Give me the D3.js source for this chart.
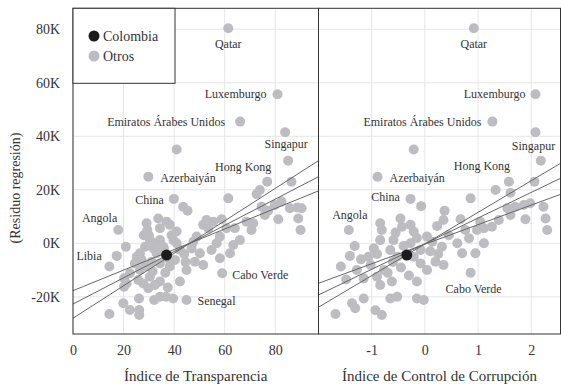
<!DOCTYPE html>
<html>
<head>
<meta charset="utf-8">
<script src="https://cdn.jsdelivr.net/npm/d3@7"></script>
<style>
  body { margin: 0; background: #fff; }
  text { font-family: "Liberation Serif", "Times New Roman", serif; fill: #333; }
</style>
</head>
<body>
<div id="grafico"></div>
<script>
// ticks
var ticksTransp = [0, 20, 40, 60, 80];
var ticksControl = [-1, 0, 1, 2];
var ticksResiduo = [-20, 0, 20, 40, 60, 80];

// paises con etiqueta: [nombre, indice transparencia, residuo (K)]
var paisesTransp = [
  ["Qatar", 61.4, 80.4], ["Luxemburgo", 80.9, 55.7], ["Emiratos Árabes Unidos", 66.1, 45.5],
  ["Singapur", 83.9, 41.5], ["Hong Kong", 76.8, 23.0], ["Azerbaiyán", 29.8, 24.9],
  ["China", 39.9, 16.6], ["Angola", 17.9, 5.0], ["Libia", 17.3, -4.7],
  ["Senegal", 44.9, -21.2], ["Cabo Verde", 59.0, -11.2]
];
// [nombre, control de corrupcion, residuo (K)]
var paisesControl = [
  ["Qatar", 0.92, 80.4], ["Luxemburgo", 2.08, 55.7], ["Emiratos Árabes Unidos", 1.27, 45.5],
  ["Singapur", 2.08, 41.5], ["Hong Kong", 1.58, 23.0], ["Azerbaiyán", -0.89, 24.9],
  ["China", -0.27, 16.6], ["Angola", -1.43, 5.0], ["Cabo Verde", 0.86, -11.0]
];

// resto de paises
var otrosTransp = [
  [41.0, 35.1], [43.6, 13.7], [45.3, 12.2], [20.9, -1.3], [14.4, -8.7], [20.2, -13.1], [20.2, -16.2],
  [26.1, -20.6], [19.9, -22.4], [22.5, -24.9], [14.4, -26.4], [26.2, -24.9], [26.2, -26.8],
  [32.1, -21.2], [34.4, -20.0], [36.8, -20.0], [39.6, -20.6],
  [29.1, 7.5], [33.7, 9.3], [37.0, 8.1], [38.3, 6.9], [29.4, 5.0], [34.4, 5.6], [41.0, 4.4],
  [52.8, 8.7], [55.5, 8.1], [58.8, 9.0], [51.5, 6.9], [53.5, 5.6], [60.7, 5.6], [64.0, 5.6],
  [68.6, 8.1], [71.3, 7.5], [70.6, 5.0], [66.0, 1.2], [63.4, -0.6], [58.1, 2.5], [56.8, 0.0],
  [54.8, -2.5], [62.1, -3.7], [58.1, -5.6], [48.9, 2.5], [47.6, 0.6], [46.9, -1.9], [50.2, -3.7],
  [48.2, -6.9], [51.5, -8.1], [44.9, -10.0], [42.3, -14.3], [34.4, -14.3], [30.4, -12.5],
  [27.8, -15.0], [25.8, -13.7], [26.5, -10.0], [27.1, -6.2], [26.5, -3.7], [28.5, -1.3],
  [30.4, 1.2], [32.4, 0.0], [34.4, 1.2], [35.7, -1.3], [33.1, -3.7], [31.1, -6.9], [34.4, -7.5],
  [38.3, -8.7], [40.3, -6.2], [42.3, -2.5], [41.0, 0.0], [39.7, 1.2], [25.2, -5.0], [24.5, -7.5],
  [22.5, -11.2], [21.2, -15.0], [29.8, -16.8], [32.4, -15.6], [36.0, -2.0], [38.0, -6.0],
  [32.0, -2.0], [30.0, 3.0], [44.0, -4.0], [39.0, 3.0], [28.0, 3.0], [36.5, -11.0], [31.5, -10.5],
  [44.5, -7.0], [29.0, -8.5], [37.5, -16.5],
  [73.9, 19.9], [72.6, 18.4], [74.6, 13.7], [77.2, 12.2], [79.8, 14.3], [82.5, 15.6],
  [85.8, 13.1], [88.7, 13.4], [90.4, 13.1], [75.9, 10.6], [81.2, 9.0], [89.1, 9.3], [90.0, 5.0],
  [61.4, 16.8], [86.4, 23.0], [85.1, 30.9]
];
var otrosControl = [
  [2.18, 30.9], [-0.21, 35.1], [1.33, 19.9], [1.61, 18.9], [2.06, 23.0], [0.86, 16.8],
  [-0.07, 13.9], [0.37, 12.2], [0.35, 8.7], [0.67, 9.0], [0.23, 6.5], [0.76, 5.0],
  [1.55, 13.1], [1.70, 13.7], [1.86, 14.3], [1.98, 15.0], [2.23, 13.7], [2.27, 9.3], [2.30, 5.0],
  [1.61, 10.6], [1.89, 9.0], [1.39, 8.7], [1.26, 6.2], [1.11, 5.6], [0.98, 5.0], [1.04, 8.1],
  [-1.32, -1.0], [-1.41, -4.7], [-1.58, -8.7], [-1.48, -13.5], [-1.68, -26.4], [-1.37, -22.4],
  [-1.31, -24.3], [-1.15, -20.6], [-0.93, -25.0], [-0.81, -26.8], [-0.65, -20.6], [-0.52, -20.0],
  [-0.15, -20.6], [-0.02, -21.2], [-0.15, -14.3],
  [-0.84, 7.5], [-0.81, 5.0], [-0.46, 9.3], [-0.43, 6.2], [-0.27, 6.9], [-0.21, 4.4],
  [0.04, 2.5], [0.14, 0.6], [0.32, -1.3], [0.61, 0.0], [0.70, -3.7], [0.95, -3.7], [1.11, 0.0],
  [0.83, 1.9], [-0.84, 1.2], [-0.96, -1.9], [-1.06, -5.0], [-0.59, 1.2], [-0.65, -2.5],
  [-0.52, -5.0], [-1.02, -8.1], [-0.77, -10.0], [-0.90, -12.5], [-0.62, -14.3], [-0.84, -15.6],
  [-1.15, -13.1], [-0.08, -7.5], [0.04, -10.0], [0.20, -6.9], [0.35, -8.1], [-0.21, -5.0],
  [-0.08, -2.5], [-0.27, 0.0], [-1.28, -10.0],
  [-0.70, -11.0], [-0.45, -9.0], [-0.30, -12.0], [0.10, -3.0], [0.45, 3.0], [-0.55, 4.0],
  [-1.20, -6.0], [-0.90, -4.0], [0.25, -4.0], [-0.40, -1.0], [-0.60, -7.0], [-0.15, 2.0]
];

var colombiaTransp = [37.0, -4.4];
var colombiaControl = [-0.34, -4.4];

// rectas de ajuste: [x0, y0, x1, y1]
var rectasTransp = [[0, -22.7, 97.1, 24.9], [0, -17.7, 97.1, 19.6], [0, -28.0, 97.1, 30.9]];
var rectasControl = [[-2.0, -19.3, 2.55, 24.3], [-2.0, -14.95, 2.55, 18.3], [-2.0, -23.9, 2.55, 29.9]];

// --------------------------------------------------------------
var W = 561, H = 384;
var top_ = 8.3, bottom_ = 334;

var svg = d3.select("#grafico").append("svg")
  .attr("width", W).attr("height", H);

var y = d3.scaleLinear().domain([-33.9, 87.85]).range([bottom_, top_]);

// posicion de etiquetas (dx, dy, anchor)
var posTransp = {
  "Qatar": [0, 20, "middle"], "Luxemburgo": [-11, 4, "end"], "Emiratos Árabes Unidos": [-15, 4, "end"],
  "Singapur": [1, 16, "middle"], "Hong Kong": [-24, -11, "middle"], "Azerbaiyán": [12, 5, "start"],
  "China": [-10, 5, "end"], "Angola": [-1, -8, "end"], "Libia": [-15, 4.5, "end"],
  "Senegal": [11, 4.5, "start"], "Cabo Verde": [10, 5.5, "start"]
};
var posControl = {
  "Qatar": [0, 20, "middle"], "Luxemburgo": [-10, 4, "end"], "Emiratos Árabes Unidos": [-11, 4, "end"],
  "Singapur": [-2, 18, "middle"], "Hong Kong": [-27, -12, "middle"], "Azerbaiyán": [12, 5, "start"],
  "China": [-10.7, 2, "end"], "Angola": [1, -11, "middle"], "Cabo Verde": [3, 20, "middle"]
};

function panel(x0, x1, dominio, ticks, fmt, paises, otros, colombia, rectas, pos, titulo) {
  var x = d3.scaleLinear().domain(dominio).range([x0, x1]);
  var g = svg.append("g");

  // grid
  g.selectAll(".gv").data(ticks).enter().append("line")
    .attr("x1", function (d) { return x(d) }).attr("x2", function (d) { return x(d) })
    .attr("y1", top_).attr("y2", bottom_)
    .attr("stroke", "#e6e6e6").attr("stroke-width", 1);
  g.selectAll(".gh").data(ticksResiduo).enter().append("line")
    .attr("x1", x0).attr("x2", x1)
    .attr("y1", function (d) { return y(d) }).attr("y2", function (d) { return y(d) })
    .attr("stroke", "#e6e6e6").attr("stroke-width", 1);

  // puntos
  var todos = otros.concat(paises.map(function (p) { return [p[1], p[2]] }));
  g.selectAll(".pt").data(todos).enter().append("circle")
    .attr("cx", function (d) { return x(d[0]) })
    .attr("cy", function (d) { return y(d[1]) })
    .attr("r", 5)
    .attr("fill", "#bdbdc1");

  // rectas
  g.selectAll(".rc").data(rectas).enter().append("line")
    .attr("x1", function (d) { return x(d[0]) }).attr("y1", function (d) { return y(d[1]) })
    .attr("x2", function (d) { return x(d[2]) }).attr("y2", function (d) { return y(d[3]) })
    .attr("stroke", "#666").attr("stroke-width", 1);

  // colombia
  g.append("circle")
    .attr("cx", x(colombia[0])).attr("cy", y(colombia[1]))
    .attr("r", 5.5).attr("fill", "#1c1c1c");

  // etiquetas
  g.selectAll(".lb").data(paises).enter().append("text")
    .attr("x", function (d) { return x(d[1]) + pos[d[0]][0] })
    .attr("y", function (d) { return y(d[2]) + pos[d[0]][1] })
    .attr("text-anchor", function (d) { return pos[d[0]][2] })
    .attr("font-size", 12)
    .text(function (d) { return d[0] });

  // marco
  g.append("rect")
    .attr("x", x0).attr("y", top_).attr("width", x1 - x0).attr("height", bottom_ - top_)
    .attr("fill", "none").attr("stroke", "#333").attr("stroke-width", 1);

  // eje x
  var ax = svg.append("g")
    .attr("transform", "translate(0," + (bottom_ + 8) + ")")
    .call(d3.axisBottom(x).tickValues(ticks).tickSize(0).tickFormat(fmt));
  ax.select(".domain").remove();
  ax.selectAll("text").attr("font-size", 14).attr("fill", "#333")
    .style("font-family", "Liberation Serif");

  svg.append("text")
    .attr("x", (x0 + x1) / 2).attr("y", 381)
    .attr("text-anchor", "middle").attr("font-size", 15)
    .text(titulo);
}

panel(73, 318.5, [0, 97.1], ticksTransp, d3.format("d"), paisesTransp, otrosTransp,
  colombiaTransp, rectasTransp, posTransp, "Índice de Transparencia");
panel(318.5, 560.5, [-2.0, 2.55], ticksControl, function (d) { return d3.format("d")(d).replace("−", "-") },
  paisesControl, otrosControl, colombiaControl, rectasControl, posControl, "Índice de Control de Corrupción");

// eje y
var ay = svg.append("g")
  .attr("transform", "translate(" + 63 + ",0)")
  .call(d3.axisLeft(y).tickValues(ticksResiduo).tickSize(0)
    .tickFormat(function (d) { return d + "K" }));
ay.select(".domain").remove();
ay.selectAll("text").attr("font-size", 14).attr("fill", "#333")
  .style("font-family", "Liberation Serif");

svg.append("text")
  .attr("transform", "translate(20,188) rotate(-90)")
  .attr("text-anchor", "middle").attr("font-size", 14)
  .text("(Residuo regresión)");

// leyenda
var ley = svg.append("g");
ley.append("rect")
  .attr("x", 73).attr("y", top_).attr("width", 102).attr("height", 75)
  .attr("fill", "#fff").attr("stroke", "#333").attr("stroke-width", 1);
var itemsLeyenda = [["Colombia", "#1c1c1c"], ["Otros", "#bdbdc1"]];
itemsLeyenda.forEach(function (it, i) {
  ley.append("circle").attr("cx", 94).attr("cy", 36 + i * 20).attr("r", 5.5).attr("fill", it[1]);
  ley.append("text").attr("x", 103).attr("y", 41 + i * 20).attr("font-size", 14).text(it[0]);
});
</script>
</body>
</html>
